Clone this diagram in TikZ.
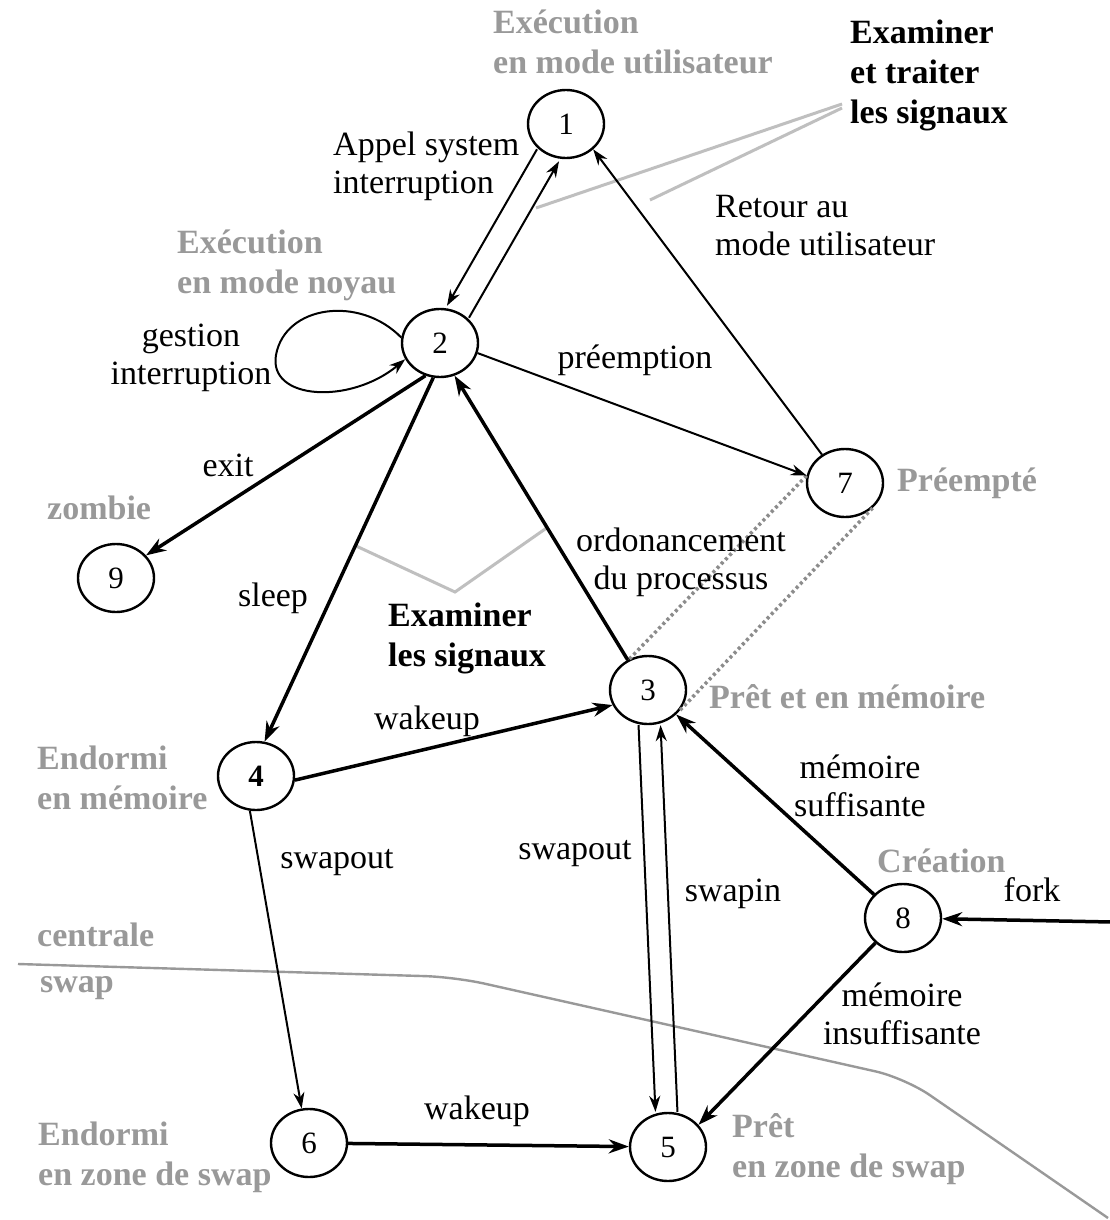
\documentclass[tikz,border=0pt]{standalone}
\usepackage{fontspec}
\setmainfont{Liberation Serif}
\usetikzlibrary{arrows.meta,shapes.geometric}
\definecolor{lgray}{gray}{0.6}
\definecolor{llgray}{gray}{0.75}
\definecolor{dgray}{gray}{0.55}
\begin{document}
\begin{tikzpicture}[x=1pt,y=-1pt,
  st/.style={draw, ellipse, line width=2.4pt, minimum width=76pt, minimum height=68pt, inner sep=0pt, font=\fontsize{31}{34}\selectfont},
  lab/.style={inner sep=0pt, font=\fontsize{34}{38}\selectfont, align=center},
  glab/.style={inner sep=0pt, font=\fontsize{34}{40}\selectfont\bfseries, text=lgray, align=left, anchor=west},
  blab/.style={inner sep=0pt, font=\fontsize{34}{40}\selectfont\bfseries, align=left, anchor=west},
  ta/.style={-{Stealth[length=16pt,width=11pt]}, line width=2pt},
  tb/.style={-{Stealth[length=20pt,width=14pt]}, line width=3.5pt},
  dotline/.style={draw=dgray, line width=3.5pt, dash pattern=on 3pt off 3pt},
  gline/.style={draw=llgray, line width=3pt},
  bline/.style={draw=lgray, line width=2.4pt}]
\path[use as bounding box, fill=white] (0,0) rectangle (1110,1220);

% states
\node[st] (n1) at (566,124) {1};
\node[st] (n2) at (440,343) {2};
\node[st] (n7) at (845,483) {7};
\node[st] (n9) at (116,578) {9};
\node[st] (n3) at (648,690) {3};
\node[st] (n4) at (256,776) {\textbf{4}};
\node[st] (n8) at (903,918) {8};
\node[st] (n6) at (309,1143) {6};
\node[st] (n5) at (668,1147) {5};
\coordinate (forkin) at (1112,922);

% memory / swap boundary
\draw[bline, rounded corners=30pt] (18,964) -- (455,977) -- (905,1078) -- (1108,1218);

% signal hints
\node[blab] (sig1) at (850,75) {Examiner\\et traiter\\les signaux};
\node[blab] (sig2) at (388,638) {Examiner\\les signaux};
\coordinate (s1a) at (536,208);
\coordinate (s1b) at (650,200);
\draw[gline] (842,104) -- (s1a);
\draw[gline] (842,108) -- (s1b);
\coordinate (s2a) at (354,545);
\coordinate (s2b) at (455,592);
\coordinate (s2c) at (548,527);
\draw[gline] (s2a) -- (s2b) -- (s2c);

% dotted links 3 - 7
\draw[dotline] (n3.121) -- (n7.169);
\draw[dotline] (n3.328) -- (n7.319);

% transitions
\draw[ta, transform canvas={xshift=-11pt, yshift=6pt}] (n1) -- (n2);
\draw[ta, transform canvas={xshift=11pt, yshift=-6pt}] (n2) -- (n1);
\draw[ta] (n7.129) -- (n1.317);
\draw[ta] (n2.345) -- (n7.169);
\draw[ta] (n2.172) .. controls (360,295) and (285,305) .. (276,355)
   .. controls (268,400) and (350,405) .. (n2.205);
\draw[tb] (n2.246) -- (n9.37);
\draw[tb] (n2.259) -- (n4.76);
\draw[tb] (n3.124) -- (n2.294);
\draw[tb] (n4.354) -- (n3.203);
\draw[ta, transform canvas={xshift=-11pt}] (n3) -- (n5);
\draw[ta, transform canvas={xshift=11pt}] (n5) -- (n3);
\draw[tb] (n8.141) -- (n3.319);
\draw[tb] (n8.222) -- (n5.36);
\draw[tb] (forkin) -- (n8);
\draw[ta] (n4.260) -- (n6.102);
\draw[tb] (n6) -- (n5);

% state descriptions
\node[glab] at (493,42) {Exécution\\en mode utilisateur};
\node[glab] at (177,265) {Exécution\\en mode noyau};
\node[glab] at (47,508) {zombie};
\node[glab] at (897,483) {Préempté};
\node[glab] at (709,697) {Prêt et en mémoire};
\node[glab] at (37,778) {Endormi\\en mémoire};
\node[glab] at (877,861) {Création};
\node[glab] at (37,935) {centrale};
\node[glab] at (40,988) {swap};
\node[glab] at (38,1157) {Endormi\\en zone de swap};
\node[glab] at (732,1149) {Prêt\\en zone de swap};

% transition labels
\node[lab, align=left, anchor=west] at (333,166) {Appel system\\interruption};
\node[lab, align=left, anchor=west] at (715,226) {Retour au\\mode utilisateur};
\node[lab] at (191,358) {gestion\\interruption};
\node[lab] at (635,360) {préemption};
\node[lab] at (228,465) {exit};
\node[lab] at (273,598) {sleep};
\node[lab] at (681,562) {ordonancement\\du processus};
\node[lab] at (427,721) {wakeup};
\node[lab] at (860,786) {mémoire\\suffisante};
\node[lab] at (337,863) {swapout};
\node[lab] at (575,854) {swapout};
\node[lab] at (733,894) {swapin};
\node[lab] at (1032,890) {fork};
\node[lab] at (902,1014) {mémoire\\insuffisante};
\node[lab] at (477,1111) {wakeup};
\end{tikzpicture}
\end{document}
